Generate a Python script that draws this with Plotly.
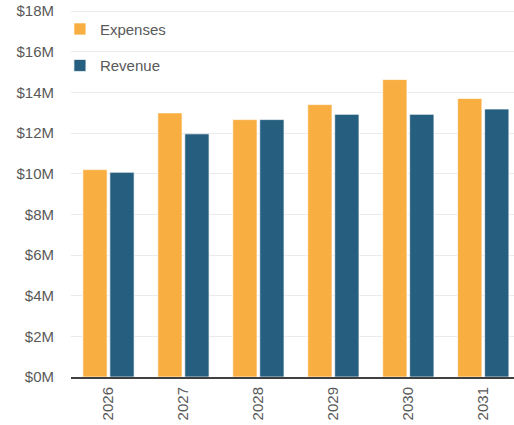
import plotly.graph_objects as go

years = ["2026", "2027", "2028", "2029", "2030", "2031"]
expenses = [10.2, 12.99, 12.66, 13.4, 14.63, 13.7]
revenue = [10.07, 11.96, 12.66, 12.92, 12.92, 13.18]
y_ticks = [0, 2, 4, 6, 8, 10, 12, 14, 16, 18]
y_tick_labels = [f"${v}M" for v in y_ticks]

ORANGE = "#F9AE41"
BLUE = "#255E7E"
FONT = "Liberation Sans"
GRAY = "#595959"

fig = go.Figure()
fig.add_bar(name="Expenses", x=years, y=expenses, marker_color=ORANGE,
            marker_line=dict(color="rgba(255,255,255,0.7)", width=1),
            legendgroup="e")
fig.add_bar(name="Revenue", x=years, y=revenue, marker_color=BLUE,
            marker_line=dict(color="rgba(255,255,255,0.7)", width=1),
            legendgroup="r")

fig.update_layout(
    width=514, height=425,
    margin=dict(l=71, r=0, t=9, b=48, autoexpand=False),
    paper_bgcolor="white", plot_bgcolor="white",
    barmode="group", bargap=0.28, bargroupgap=0.1,
    font=dict(family=FONT, size=15, color=GRAY),
    legend=dict(x=-0.025, y=0.99, xanchor="left", yanchor="top",
                bgcolor="rgba(0,0,0,0)", tracegroupgap=14,
                font=dict(family=FONT, size=15, color=GRAY)),
    showlegend=True,
)
fig.update_xaxes(type="category", range=[-0.5, 5.41], tickangle=-90,
                 showline=True, linecolor="#404040", linewidth=2,
                 showgrid=False, ticks="", ticklabelstandoff=2,
                 tickfont=dict(family=FONT, size=15, color=GRAY))
fig.update_yaxes(range=[0, 18.1], tickvals=y_ticks, ticktext=y_tick_labels,
                 showgrid=True, gridcolor="#EBEBEB", gridwidth=1,
                 zeroline=False, showline=False, ticks="",
                 ticklabelstandoff=16,
                 tickfont=dict(family=FONT, size=15, color=GRAY))

fig.write_html("out.html",
               config={"displayModeBar": False},
               post_script="document.body.style.margin='0';document.body.style.overflow='hidden';")
